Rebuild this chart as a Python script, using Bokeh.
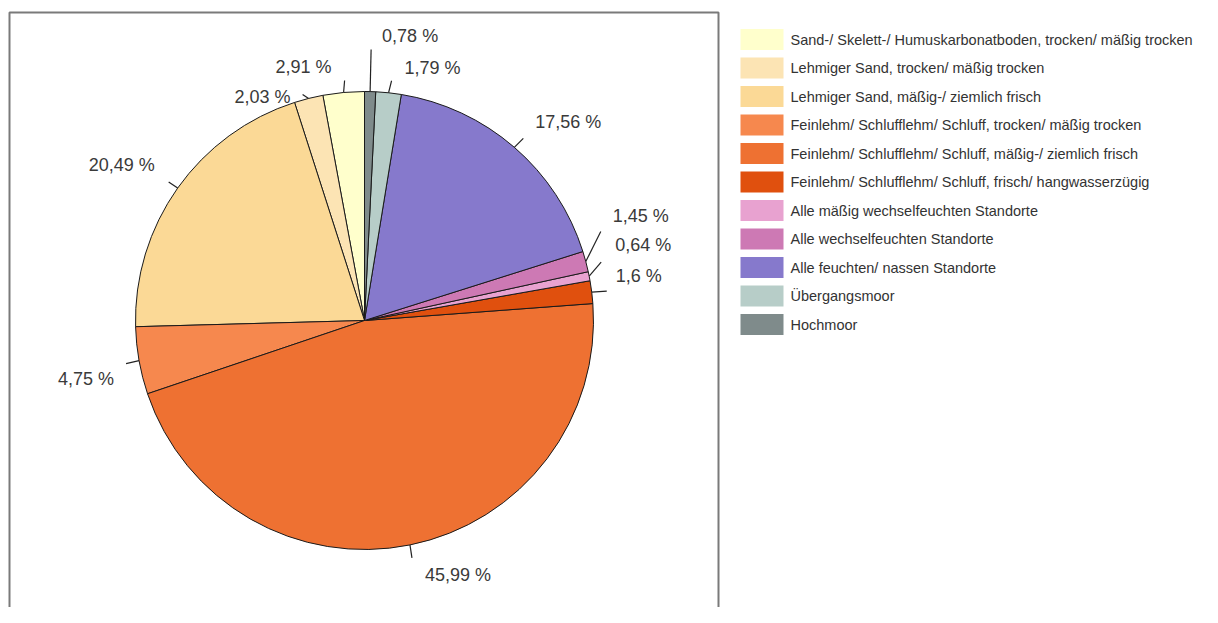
import math
from bokeh.plotting import figure
from bokeh.models import ColumnDataSource, Range1d
from bokeh.core.properties import value
from bokeh.embed import file_html
from bokeh.resources import INLINE

# ---- data (legend order; drawn counter-clockwise from 12 o'clock) ----
categories = [
    "Sand-/ Skelett-/ Humuskarbonatboden, trocken/ mäßig trocken",
    "Lehmiger Sand, trocken/ mäßig  trocken",
    "Lehmiger Sand, mäßig-/ ziemlich frisch",
    "Feinlehm/ Schlufflehm/ Schluff, trocken/ mäßig trocken",
    "Feinlehm/ Schlufflehm/ Schluff, mäßig-/ ziemlich frisch",
    "Feinlehm/ Schlufflehm/ Schluff, frisch/ hangwasserzügig",
    "Alle mäßig wechselfeuchten Standorte",
    "Alle wechselfeuchten Standorte",
    "Alle feuchten/ nassen Standorte",
    "Übergangsmoor",
    "Hochmoor",
]
percentages = [2.91, 2.03, 20.49, 4.75, 45.99, 1.6, 0.64, 1.45, 17.56, 1.79, 0.78]

# ---- styles ----
colors = ["#FFFFCC", "#FCE4B4", "#FBD996", "#F6884E", "#EE7132", "#E0500E",
          "#E8A2D0", "#CD79B4", "#8679CC", "#B7CDC8", "#7F8B8B"]
# label centre offset from slice edge point (px, screen: +x right, +y down)
label_dx = [-40, -46, -56, -53, 48, 47, 54, 55, 54, 44, 40]
label_dy = [-25, -1, -23, 18, 30, -16, -31, -46, -25, -25, -56]
# leader end offset from slice edge point
leader_dx = [1, -6, -9, -13, 2, 15, 12, 15, 9, 3, 1]
leader_dy = [-12, -4, -6, 3, 13, -1, -14, -30, -9, -12, -42]

W, H = 1202, 607
IMG_H = 623

def Y(img_y):
    return IMG_H - img_y

p = figure(width=W, height=H, output_backend="svg", toolbar_location=None,
           x_range=Range1d(0, W), y_range=Range1d(IMG_H - H, IMG_H),
           x_axis_type=None, y_axis_type=None, min_border=0)
p.grid.visible = False
p.outline_line_color = None
p.background_fill_color = "white"
p.border_fill_color = "white"

# frame box
p.quad(left=[9], right=[718], top=[Y(12)], bottom=[Y(640)], fill_color=None,
       line_color="#7a7a7a", line_width=2)

# ---- pie ----
cx, cy, R = 364, Y(320), 229
total = sum(percentages)
starts, ends, mids = [], [], []
acc = 0.0
for v in percentages:
    s = math.pi / 2 + 2 * math.pi * acc / total
    acc += v
    e = math.pi / 2 + 2 * math.pi * acc / total
    starts.append(s); ends.append(e); mids.append((s + e) / 2)

src = ColumnDataSource(dict(start=starts, end=ends, color=colors))
p.wedge(x=cx, y=cy, radius=R, start_angle="start", end_angle="end",
        fill_color="color", line_color="#1a1a1a", line_width=1, source=src)

ex = [cx + R * math.cos(m) for m in mids]
ey = [cy + R * math.sin(m) for m in mids]
lx1 = [x + dx for x, dx in zip(ex, leader_dx)]
ly1 = [y - dy for y, dy in zip(ey, leader_dy)]
p.segment(x0=ex, y0=ey, x1=lx1, y1=ly1, line_color="#222222", line_width=1.2)

labels = [str(v).replace(".", ",") + " %" for v in percentages]
tx = [x + dx for x, dx in zip(ex, label_dx)]
ty = [y - dy for y, dy in zip(ey, label_dy)]
p.text(x=tx, y=ty, text=labels, text_align="center", text_baseline="middle",
       text_font=value("Liberation Sans"), text_font_size="18px", text_color="#3a3a3a")

# ---- legend ----
n = len(categories)
leg_y = [Y(39 + 28.5 * i) for i in range(n)]
p.rect(x=[761.5] * n, y=leg_y, width=43, height=21, fill_color=colors, line_color=None)
p.text(x=[790] * n, y=leg_y, text=categories, text_align="left", text_baseline="middle",
       text_font=value("Liberation Sans"), text_font_size="14.5px", text_color="#333333")

open("out.html", "w").write(file_html(p, INLINE))
